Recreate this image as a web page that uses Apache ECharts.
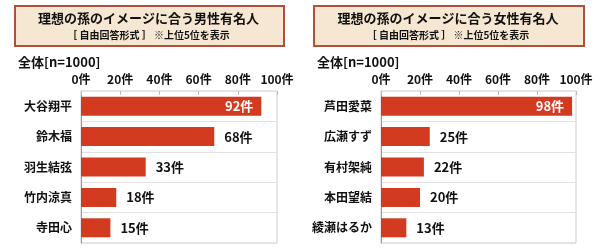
<!DOCTYPE html>
<html>
<head>
<meta charset="utf-8">
<script src="https://cdn.jsdelivr.net/npm/echarts@6/dist/echarts.min.js"></script>
<style>
  html, body { margin: 0; padding: 0; background: #fff; }
  #chart { width: 600px; height: 248px; }
</style>
</head>
<body>
<div id="chart"></div>
<script>
var maleNames = ['大谷翔平', '鈴木福', '羽生結弦', '竹内涼真', '寺田心'];
var maleCounts = [92, 68, 33, 18, 15];
var femaleNames = ['芦田愛菜', '広瀬すず', '有村架純', '本田望結', '綾瀬はるか'];
var femaleCounts = [98, 25, 22, 20, 13];
var panelTitles = ['理想の孫のイメージに合う男性有名人', '理想の孫のイメージに合う女性有名人'];
var subTitle = '［ 自由回答形式 ］ ※上位5位を表示';
var sampleLabel = '全体[n=1000]';

var FONT = '"Noto Sans CJK JP", "Noto Sans", sans-serif';
var BAR_COLOR = '#d23b20';

var chart = echarts.init(document.getElementById('chart'));

function makeData(values) {
    // the top bar gets its label inside, in white
    return values.map(function(v, i) {
        if (i === 0) {
            return { value: v, label: { position: 'insideRight', color: '#fff', distance: 8 } };
        }
        return v;
    });
}

function xAxisFor(idx) {
    return {
        gridIndex: idx,
        type: 'value',
        position: 'top',
        min: 0,
        max: 100,
        interval: 20,
        axisLine: { show: false },
        axisTick: { show: true, inside: true, length: 4, lineStyle: { color: '#bbb' } },
        splitLine: { show: false },
        axisLabel: {
            formatter: '{value}件',
            margin: 6,
            fontFamily: FONT,
            fontSize: 12,
            fontWeight: 'bold',
            color: '#111'
        }
    };
}

function yAxisFor(idx, names) {
    return {
        gridIndex: idx,
        type: 'category',
        inverse: true,
        data: names,
        axisLine: { show: true, lineStyle: { color: '#999' } },
        axisTick: { show: false },
        splitLine: { show: true, lineStyle: { color: '#e2e2e2' } },
        axisLabel: {
            margin: 9,
            fontFamily: FONT,
            fontSize: 12,
            fontWeight: 'bold',
            color: '#111'
        }
    };
}

function seriesFor(idx, values) {
    return {
        type: 'bar',
        xAxisIndex: idx,
        yAxisIndex: idx,
        barWidth: 19,
        itemStyle: { color: BAR_COLOR },
        label: {
            show: true,
            position: 'right',
            distance: 10,
            formatter: '{c}件',
            fontFamily: FONT,
            fontSize: 13,
            fontWeight: 'bold',
            color: '#111'
        },
        data: makeData(values)
    };
}

function headerFor(left, width, title) {
    return [{
        type: 'rect',
        left: left,
        top: 5,
        shape: { width: width, height: 40 },
        style: { fill: '#f6e7d3', stroke: '#b0503a', lineWidth: 2 }
    }, {
        type: 'text',
        x: left + width / 2,
        y: 18,
        style: {
            text: title, align: 'center', verticalAlign: 'middle',
            font: 'bold 13px ' + FONT, fill: '#111'
        }
    }, {
        type: 'text',
        x: left + width / 2,
        y: 35,
        style: {
            text: subTitle, align: 'center', verticalAlign: 'middle',
            font: 'bold 10px ' + FONT, fill: '#111'
        }
    }, {
        type: 'text',
        x: left + 4,
        y: 62,
        style: {
            text: sampleLabel, align: 'left', verticalAlign: 'middle',
            font: 'bold 13px ' + FONT, fill: '#111'
        }
    }];
}

chart.setOption({
    animation: false,
    grid: [
        { left: 81, width: 196, top: 91, height: 152, show: true, borderColor: '#ccc', borderWidth: 1 },
        { left: 381, width: 195, top: 91, height: 152, show: true, borderColor: '#ccc', borderWidth: 1 }
    ],
    xAxis: [xAxisFor(0), xAxisFor(1)],
    yAxis: [yAxisFor(0, maleNames), yAxisFor(1, femaleNames)],
    series: [seriesFor(0, maleCounts), seriesFor(1, femaleCounts)],
    graphic: headerFor(14, 269, panelTitles[0]).concat(headerFor(313, 270, panelTitles[1]))
});
</script>
</body>
</html>
